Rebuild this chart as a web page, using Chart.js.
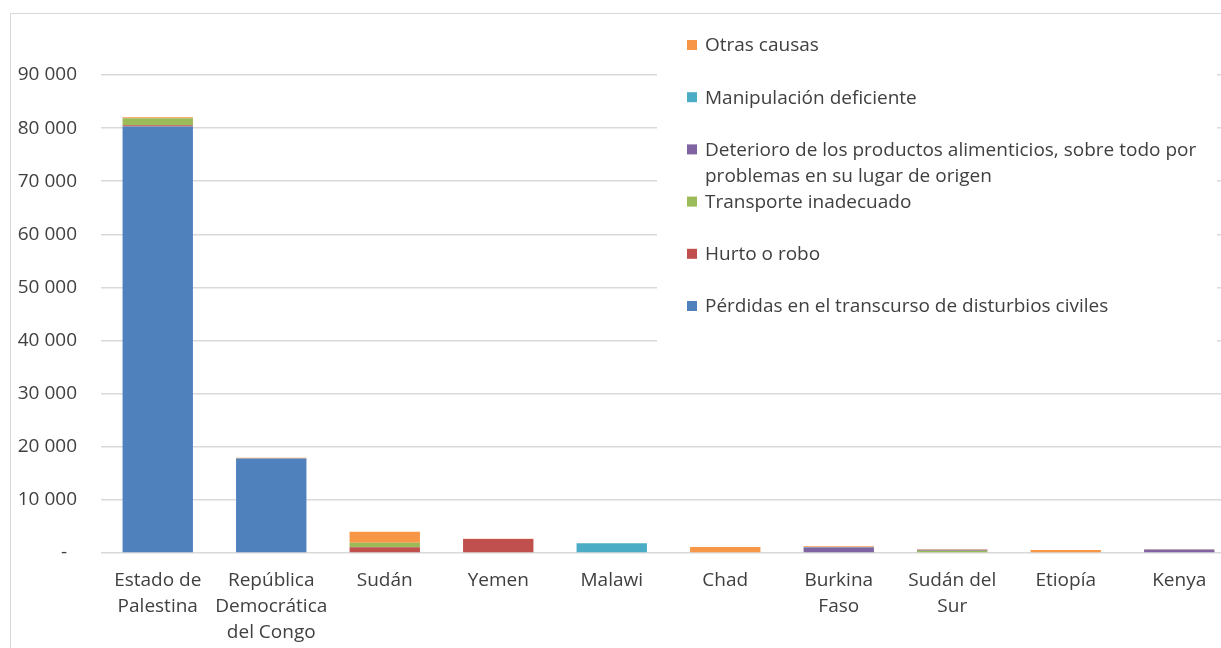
<!DOCTYPE html>
<html>
<head>
<meta charset="utf-8">
<script src="https://cdn.jsdelivr.net/npm/chart.js@4"></script>
<style>
  html, body { margin: 0; padding: 0; background: #fff; overflow: hidden; width: 1221px; height: 648px; }
  #frame { position: absolute; left: 10px; top: 13px; width: 1300px; height: 700px; border: 1.5px solid #d9d9d9; }
  #c { position: absolute; left: 0; top: 0; }
</style>
</head>
<body>
<div id="frame"></div>
<canvas id="c" width="1240" height="648"></canvas>
<script>
// categories (multi-line labels as in the original)
const categories = [
  ['Estado de', 'Palestina'],
  ['República', 'Democrática', 'del Congo'],
  'Sudán', 'Yemen', 'Malawi', 'Chad',
  ['Burkina', 'Faso'],
  ['Sudán del', 'Sur'],
  'Etiopía', 'Kenya'
];

// series values (tonnes), bottom of the stack first
const perdidas     = [80300, 17770,    0,    0,    0,    0,    0,   0,   0,   0];
const hurto        = [  250,     0, 1070, 2630,    0,    0,    0,   0,   0,   0];
const transporte   = [ 1300,     0,  880,    0,    0,    0,    0, 420,   0,   0];
const deterioro    = [    0,     0,    0,    0,    0,    0, 1050, 200,   0, 650];
const manipulacion = [    0,     0,    0,    0, 1820,    0,   60,   0,   0,   0];
const otras        = [  200,   150, 2060,   50,    0, 1120,  150,  80, 560,  50];

const seriesNames = [
  'Pérdidas en el transcurso de disturbios civiles',
  'Hurto o robo',
  'Transporte inadecuado',
  'Deterioro de los productos alimenticios, sobre todo por\nproblemas en su lugar de origen',
  'Manipulación deficiente',
  'Otras causas'
];
const seriesColors = ['#4F81BD', '#C0504D', '#9BBB59', '#8064A2', '#4BACC6', '#F79646'];
const seriesData = [perdidas, hurto, transporte, deterioro, manipulacion, otras];

const yTicks = [0, 10000, 20000, 30000, 40000, 50000, 60000, 70000, 80000, 90000];

const FONT = '"Open Sans", "Noto Sans", sans-serif';
const TEXT = '#404040';

// legend drawn inside the plot area, top-right, reversed order like Excel
const boxLegend = {
  id: 'boxLegend',
  beforeDatasetsDraw(chart) {
    const ctx = chart.ctx;
    ctx.save();
    ctx.fillStyle = '#ffffff';
    ctx.fillRect(657, 22, 560, 322);
    ctx.font = '19px ' + FONT;
    ctx.textBaseline = 'middle';
    ctx.textAlign = 'left';
    const ds = chart.data.datasets.slice().reverse();
    ds.forEach((d, i) => {
      const y = 45 + i * 52.2;
      ctx.fillStyle = d.backgroundColor;
      ctx.fillRect(687, y - 5, 10, 10);
      ctx.fillStyle = TEXT;
      d.legendText.split('\n').forEach((line, j) => {
        ctx.fillText(line, 705, y + 1 + j * 26);
      });
    });
    ctx.restore();
  }
};

new Chart(document.getElementById('c'), {
  type: 'bar',
  data: {
    labels: categories,
    datasets: seriesData.map((vals, i) => ({
      label: seriesNames[i].replace('\n', ' '),
      legendText: seriesNames[i],
      data: vals,
      backgroundColor: seriesColors[i],
      borderWidth: 0,
      barPercentage: 0.62,
      categoryPercentage: 1
    }))
  },
  options: {
    responsive: false,
    animation: false,
    devicePixelRatio: 1,
    layout: { padding: { top: 75, left: 0, right: 4, bottom: 0 } },
    plugins: {
      legend: { display: false },
      tooltip: { enabled: false }
    },
    scales: {
      x: {
        stacked: true,
        grid: { display: false, drawTicks: false },
        border: { display: false },
        ticks: {
          color: TEXT,
          font: { family: FONT, size: 19, lineHeight: 26 / 19 },
          padding: 15,
          maxRotation: 0,
          autoSkip: false
        },
        afterFit(s) { s.height = 95; }
      },
      y: {
        stacked: true,
        min: 0,
        max: 90000,
        afterBuildTicks(s) { s.ticks = yTicks.map(v => ({ value: v })); },
        grid: { color: '#d9d9d9', lineWidth: 1.5, drawTicks: false },
        border: { display: false },
        ticks: {
          color: TEXT,
          font: { family: FONT, size: 19 },
          padding: 24,
          callback(v) {
            return v === 0 ? '-\u00a0\u00a0' : String(v).replace(/\B(?=(\d{3})+(?!\d))/g, ' ');
          }
        },
        afterFit(s) { s.width = 101; }
      }
    }
  },
  plugins: [boxLegend]
});
</script>
</body>
</html>
